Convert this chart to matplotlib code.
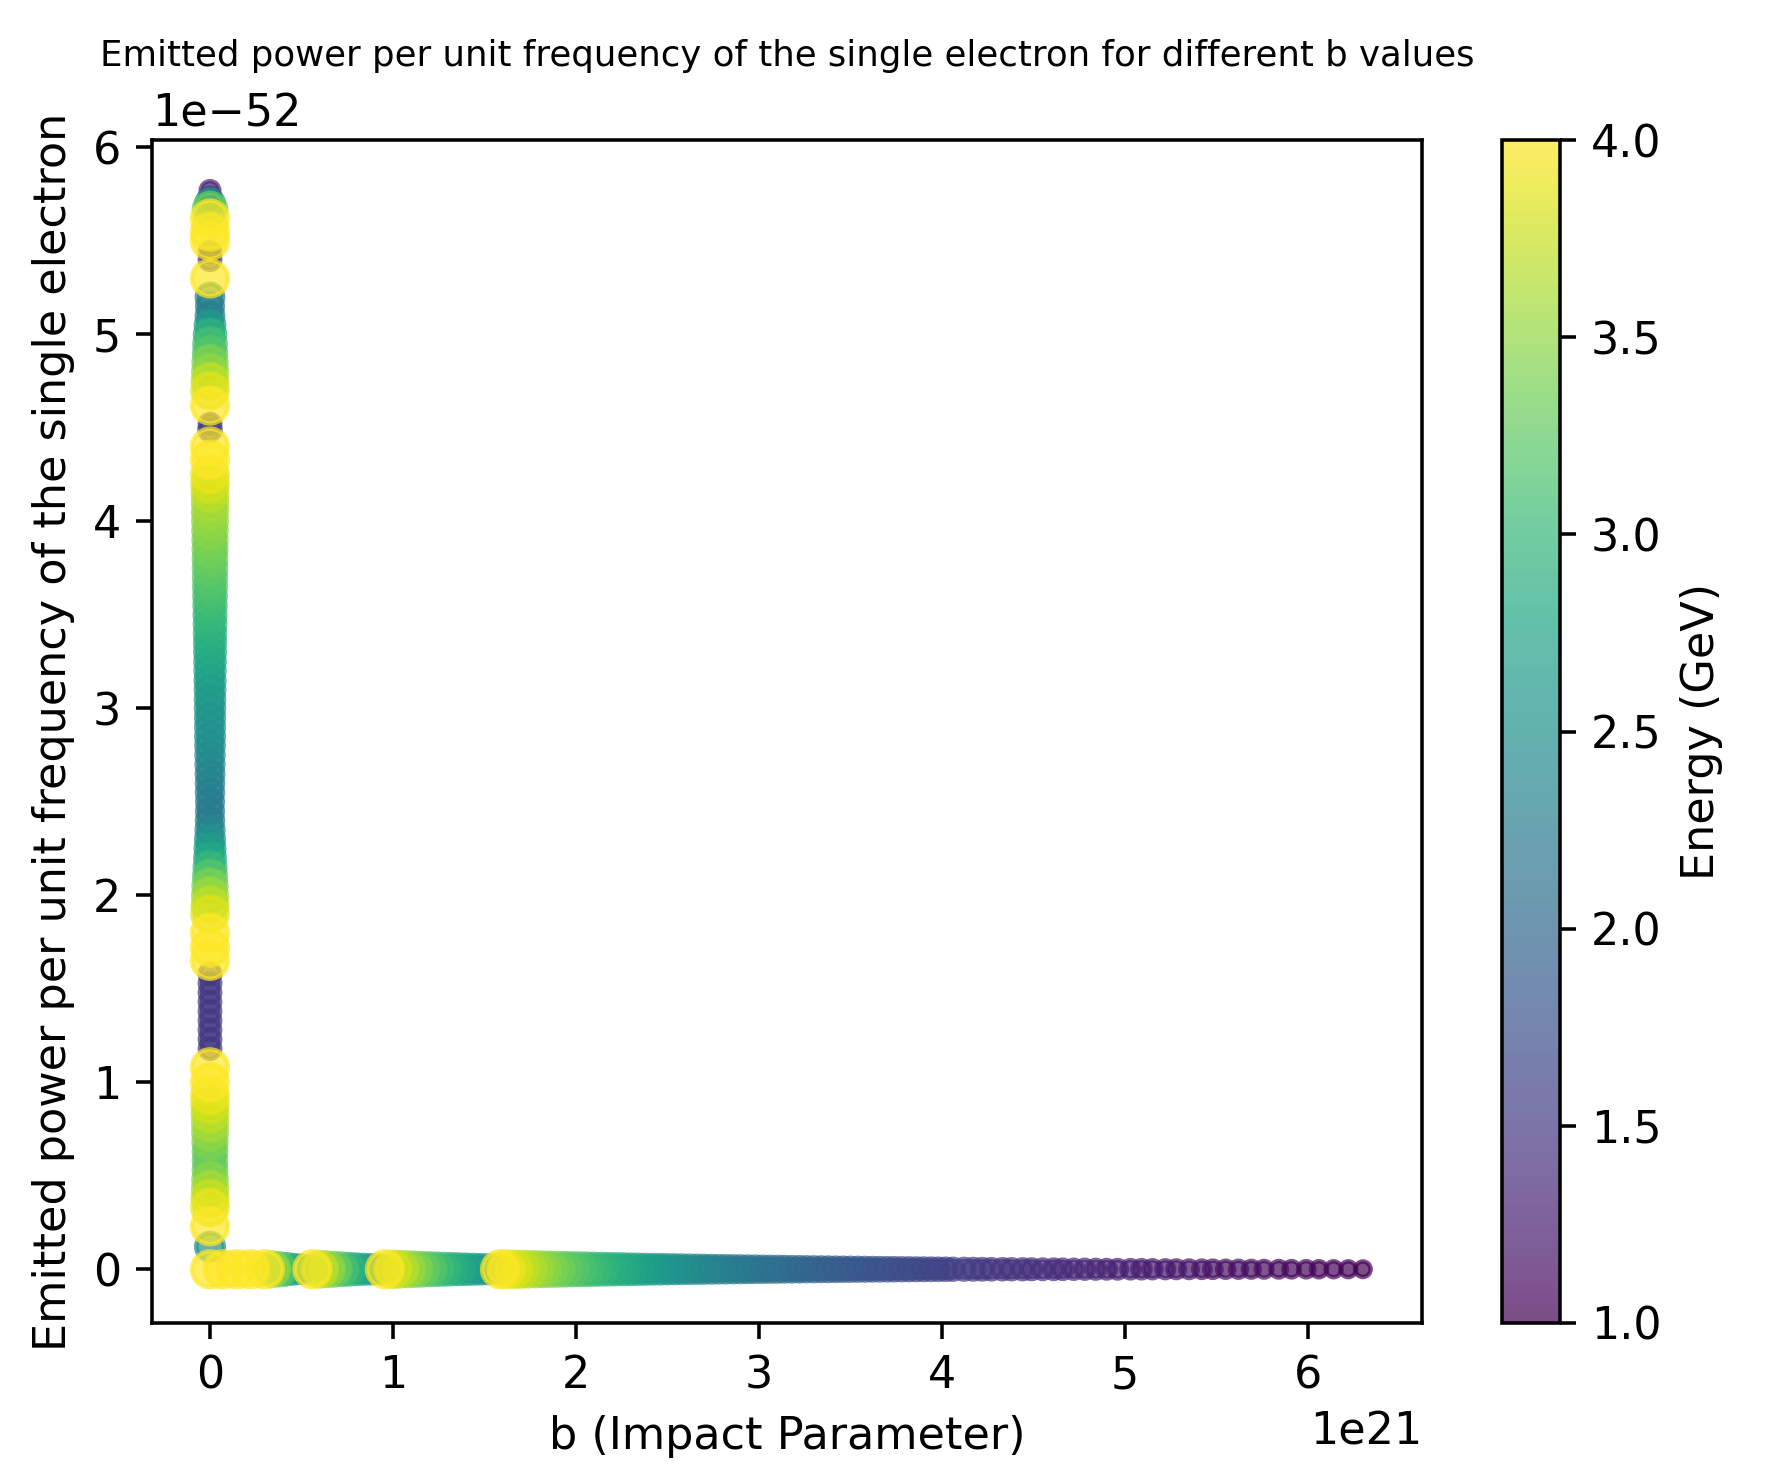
import numpy as np
import matplotlib
matplotlib.use("Agg")
import matplotlib.pyplot as plt

# horizontal band along P ~ 0 (b in units of 1e21 m, energy in GeV)
band_b = [0.00, 0.07, 0.146, 0.22, 0.30, 0.34, 0.38, 0.42, 0.46, 0.50,
          0.56, 0.60, 0.64, 0.68, 0.72, 0.76, 0.80, 0.84, 0.88, 0.92,
          0.956, 1.00, 1.04, 1.08, 1.12, 1.16, 1.20, 1.24, 1.28, 1.32,
          1.36, 1.40, 1.44, 1.48, 1.52, 1.56, 1.585,
          1.62, 1.66, 1.70, 1.74, 1.78, 1.82, 1.86, 1.90, 1.94, 1.98,
          2.02, 2.06, 2.10, 2.14, 2.18, 2.22, 2.26, 2.30, 2.34, 2.38,
          2.42, 2.46, 2.50, 2.54, 2.58, 2.62, 2.66, 2.70, 2.74, 2.78,
          2.82, 2.86, 2.90, 2.94, 2.98, 3.02, 3.06, 3.10, 3.14, 3.18,
          3.22, 3.26, 3.30, 3.34, 3.38, 3.42, 3.46, 3.50, 3.54, 3.58,
          3.62, 3.66, 3.70, 3.74, 3.78, 3.82, 3.86, 3.90, 3.94, 3.98,
          4.02, 4.06]
band_energy = [4.0, 4.0, 4.0, 4.0, 4.0, 3.5, 3.2, 2.9, 2.6, 2.45,
               4.0, 3.7, 3.5, 3.3, 3.1, 2.95, 2.8, 2.67, 2.55, 2.45,
               4.0, 3.8, 3.67, 3.54, 3.41, 3.29, 3.18, 3.08, 2.98, 2.89,
               2.81, 2.73, 2.65, 2.58, 2.51, 2.45, 4.0,
               3.91, 3.82, 3.73, 3.64, 3.56, 3.48, 3.41, 3.34, 3.27, 3.20,
               3.14, 3.08, 3.02, 2.96, 2.91, 2.86, 2.81, 2.76, 2.71, 2.66,
               2.62, 2.58, 2.54, 2.50, 2.46, 2.42, 2.38, 2.35, 2.31, 2.28,
               2.25, 2.22, 2.19, 2.16, 2.13, 2.10, 2.07, 2.05, 2.02, 1.99,
               1.97, 1.94, 1.92, 1.90, 1.88, 1.85, 1.83, 1.81, 1.79, 1.77,
               1.75, 1.73, 1.71, 1.70, 1.68, 1.66, 1.64, 1.63, 1.61, 1.59,
               1.58, 1.56]

# separate dots at large b
tail_b = [4.12, 4.17, 4.22, 4.27, 4.33, 4.38, 4.44, 4.49, 4.55, 4.61,
          4.66, 4.72, 4.78, 4.84, 4.90, 4.96, 5.03, 5.09, 5.15, 5.22,
          5.28, 5.35, 5.42, 5.48, 5.55, 5.62, 5.69, 5.76, 5.84, 5.91,
          5.99, 6.06, 6.14, 6.22, 6.30]
tail_energy = [1.54, 1.52, 1.50, 1.48, 1.46, 1.45, 1.43, 1.41, 1.39, 1.38,
               1.36, 1.34, 1.33, 1.31, 1.29, 1.28, 1.26, 1.25, 1.23, 1.21,
               1.20, 1.19, 1.17, 1.16, 1.14, 1.13, 1.11, 1.10, 1.09, 1.07,
               1.06, 1.05, 1.03, 1.02, 1.00]

# vertical column at b ~ 0 (power in units of 1e-52)
column_power = [5.77, 5.73, 5.70, 5.67, 5.62, 5.55, 5.50, 5.44, 5.40, 5.30,
                5.20, 5.15, 5.10, 5.05, 5.00, 4.95, 4.90, 4.85, 4.80, 4.75,
                4.70, 4.62, 4.52, 4.49, 4.40, 4.33, 4.25, 4.20, 4.15, 4.10,
                4.05, 4.00, 3.95, 3.90, 3.85, 3.80, 3.75, 3.70, 3.65, 3.60,
                3.55, 3.50, 3.45, 3.40, 3.35, 3.30, 3.25, 3.20, 3.15, 3.10,
                3.05, 3.00, 2.95, 2.90, 2.85, 2.80, 2.75, 2.70, 2.65, 2.60,
                2.55, 2.50, 2.45, 2.40, 2.35, 2.30, 2.25, 2.20, 2.15, 2.10,
                2.05, 2.00, 1.95, 1.90, 1.80, 1.72, 1.65, 1.58, 1.53, 1.48,
                1.43, 1.38, 1.33, 1.28, 1.23, 1.18, 1.08, 1.00, 0.93, 0.88,
                0.83, 0.78, 0.73, 0.68, 0.63, 0.58, 0.53, 0.48, 0.43, 0.38,
                0.33, 0.23, 0.12]
column_energy = [1.3, 1.6, 2.5, 3.3, 4.0, 4.0, 4.0, 1.5, 1.5, 4.0,
                 2.3, 2.2, 2.3, 2.6, 2.9, 3.1, 3.2, 3.4, 3.5, 3.7,
                 3.85, 4.0, 1.5, 1.6, 4.0, 4.0, 3.9, 3.8, 3.7, 3.6,
                 3.55, 3.5, 3.45, 3.4, 3.35, 3.3, 3.25, 3.2, 3.15, 3.1,
                 3.05, 3.0, 2.95, 2.9, 2.85, 2.8, 2.75, 2.7, 2.66, 2.62,
                 2.58, 2.55, 2.52, 2.5, 2.47, 2.44, 2.4, 2.36, 2.32, 2.28,
                 2.25, 2.2, 2.2, 2.25, 2.35, 2.5, 2.65, 2.8, 3.0, 3.2,
                 3.4, 3.55, 3.7, 3.85, 4.0, 4.0, 4.0, 1.5, 1.5, 1.5,
                 1.5, 1.5, 1.5, 1.5, 1.5, 1.5, 4.0, 4.0, 3.9, 3.8,
                 3.7, 3.6, 3.5, 3.4, 3.3, 3.25, 3.3, 3.45, 3.6, 3.75,
                 3.9, 4.0, 2.5]

b = np.concatenate([band_b, tail_b, np.zeros(len(column_power))]) * 1e21
power = np.concatenate([np.zeros(len(band_b) + len(tail_b)), column_power]) * 1e-52
energy = np.concatenate([band_energy, tail_energy, column_energy])

# higher energies end up on top
order = np.argsort(energy, kind="stable")
b, power, energy = b[order], power[order], energy[order]
sizes = 17.7 * energy - 5.5

dpi = 320
fig = plt.figure(figsize=(1768 / dpi, 1480 / dpi), dpi=dpi)
ax = fig.add_axes([152 / 1768, 1 - 1323 / 1480, 1270 / 1768, 1183 / 1480])
cax = fig.add_axes([1502 / 1768, 1 - 1323 / 1480, 58 / 1768, 1183 / 1480])

sc = ax.scatter(b, power, c=energy, cmap="viridis", s=sizes, alpha=0.7,
                vmin=1.0, vmax=4.0)
ax.set_xlim(-0.317e21, 6.623e21)
ax.set_ylim(-0.2875e-52, 6.04e-52)
ax.set_xlabel("b (Impact Parameter)")
ax.set_ylabel("Emitted power per unit frequency of the single electron")
ax.set_title("Emitted power per unit frequency of the single electron for different b values",
             fontsize=8)

cbar = fig.colorbar(sc, cax=cax)
cbar.set_label("Energy (GeV)")

fig.savefig("out.png", dpi=dpi)
